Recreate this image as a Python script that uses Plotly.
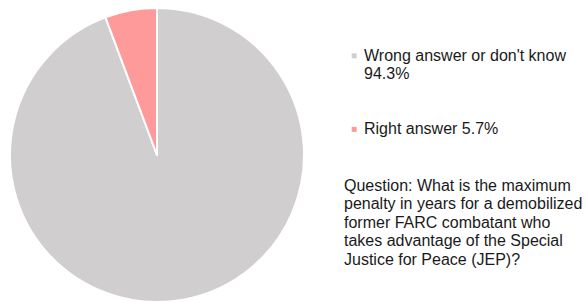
import plotly.graph_objects as go

labels = ["Wrong answer or don't know", "Right answer"]
values = [94.3, 5.7]
colors = ["#d1cecf", "#ff9a9a"]
question_lines = [
    "Question: What is the maximum",
    "penalty in years for a demobilized",
    "former FARC combatant who",
    "takes advantage of the Special",
    "Justice for Peace (JEP)?",
]

W, H = 586, 302
FONT = "Liberation Sans, Arial, sans-serif"
FS = 16
TXT = "#1a1a1a"

fig = go.Figure()
fig.add_trace(go.Pie(
    labels=labels, values=values, sort=False, direction="clockwise", rotation=0,
    marker=dict(colors=colors, line=dict(color="white", width=2)),
    textinfo="none", hoverinfo="label+percent", showlegend=False,
    domain=dict(x=[10 / W, 304 / W], y=[0, 294 / H]),
))


def px(x):
    return x / W


def py(y):
    return 1 - y / H


def line(text, x, baseline):
    return dict(
        x=px(x), y=py(baseline - 5.5), xref="paper", yref="paper",
        xanchor="left", yanchor="middle", text=text, showarrow=False,
        align="left", font=dict(family=FONT, size=FS, color=TXT),
    )


annotations = []
shapes = []
legend_lines = [
    [labels[0], f"{values[0]}%"],
    [f"{labels[1]} {values[1]}%"],
]
legend_base = [60.7, 134.3]
for i, (lines, b) in enumerate(zip(legend_lines, legend_base)):
    for j, t in enumerate(lines):
        annotations.append(line(t, 361.5, b + j * 18.6))
    shapes.append(dict(type="rect", xref="paper", yref="paper",
                       x0=px(351.7), x1=px(356.7), y0=py(b - 2.4), y1=py(b - 7.4),
                       fillcolor=colors[i], line=dict(width=0)))

for j, t in enumerate(question_lines):
    annotations.append(line(t, 341.5, 190.7 + j * 18.5))

fig.update_layout(
    width=W, height=H, margin=dict(l=0, r=0, t=0, b=0),
    paper_bgcolor="white", plot_bgcolor="white",
    annotations=annotations, shapes=shapes,
)
fig.write_html(
    "out.html",
    config={"displayModeBar": False},
    post_script="document.body.style.margin='0';document.body.style.overflow='hidden';",
)
